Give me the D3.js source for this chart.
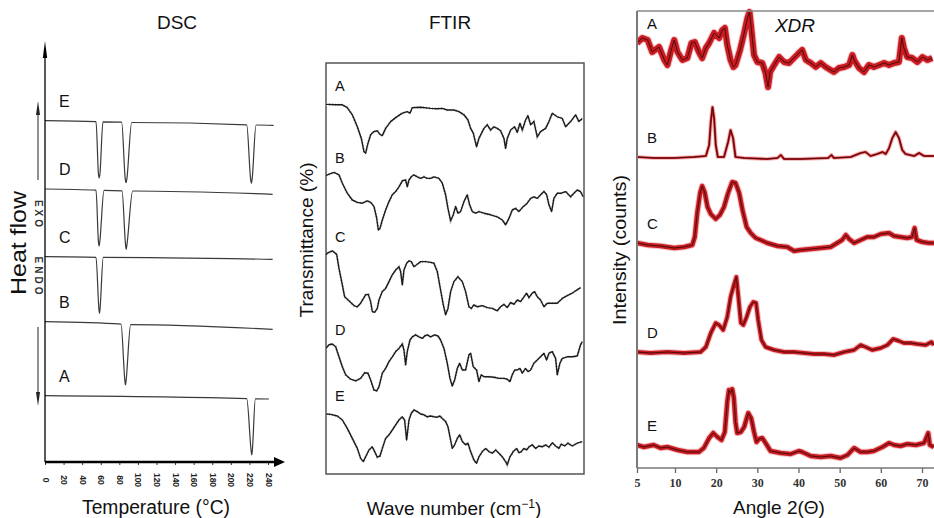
<!DOCTYPE html>
<html lang="en">
<head>
    <meta charset="UTF-8">
    <title>DSC / FTIR / XRD</title>
    <script src="https://d3js.org/d3.v7.min.js"></script>
    <style>
        body { margin: 0; background: #fff; }
        svg { display: block; font-family: "Liberation Sans", Arial, sans-serif; }
    </style>
</head>
<body>
    <div id="chart-container"></div>
    <script>
        // ---------- DSC: [temperature °C, heat flow (a.u.)] ----------
        const dscTicks = [0, 20, 40, 60, 80, 100, 120, 140, 160, 180, 200, 220, 240];
        const dscE = [[0,341.3],[54.9,340.3],[57.6,287],[58.3,284],[59.0,287],[62.4,340.1],[82.5,339.8],[86.5,282],[87.2,279.3],[87.9,282],[93.3,339.5],[217.1,337.2],[221.4,282],[222.1,278.7],[222.8,282],[227.1,337.0],[246,336.7]];
        const dscD = [[0,273],[54.9,271.8],[57.6,219],[58.2,216],[58.8,219],[63.5,271.6],[82.9,271.2],[86.8,216],[87.4,212.7],[88.0,216],[94.4,271],[245,267.7]];
        const dscC = [[0,205.3],[54.9,204.7],[58.1,152],[58.6,148.7],[59.1,152],[62.7,204.6],[245,202.7]];
        const dscB = [[0,140.3],[81.8,137.8],[86.1,80],[86.6,77],[87.1,80],[92.2,137.4],[245,132.7]];
        const dscA = [[0,66.3],[217.1,63.3],[222,10],[222.5,7],[223,10],[226.4,63.2],[241,63]];

        // ---------- FTIR: [wave number cm-1, transmittance %] ----------
        const ftirA = [[4000,92.4],[3982,92.4],[3865,92.3],[3772,92.3],[3703,91.6],[3633,89.8],[3563,86.8],[3507,83.9],[3470,80.6],[3447,80.2],[3414,82.7],[3377,84.8],[3331,85.6],[3284,85.8],[3247,84.9],[3214,84.6],[3168,86.4],[3098,88.1],[3028,89.1],[2935,90.2],[2866,90.6],[2828,90.2],[2796,91.6],[2680,91.7],[2540,91.4],[2447,91.3],[2377,91.4],[2308,91.0],[2215,91.0],[2145,90.6],[2075,89.8],[2019,88.5],[1982,86.4],[1945,85.2],[1899,81.8],[1866,83.9],[1796,86.4],[1750,87.3],[1703,86.0],[1657,86.8],[1610,86.4],[1564,85.8],[1517,83.9],[1494,81.4],[1471,83.9],[1424,86.0],[1368,86.8],[1331,85.4],[1294,87.7],[1261,86.0],[1215,88.5],[1182,89.6],[1145,87.3],[1099,88.1],[1052,84.3],[1006,85.6],[936,86.4],[889,88.1],[843,90.2],[773,89.3],[703,88.9],[657,86.8],[587,88.1],[517,89.8],[471,88.1],[424,88.9]];
        const ftirB = [[4000,74.6],[3982,74.8],[3889,75.4],[3819,74.8],[3772,72.7],[3703,70.2],[3633,68.5],[3563,67.9],[3493,67.7],[3424,68.3],[3377,67.9],[3331,66.9],[3293,64.0],[3270,61.0],[3247,61.4],[3214,63.5],[3168,66.0],[3121,68.1],[3075,69.8],[3028,70.6],[2982,71.8],[2935,73.3],[2889,73.5],[2866,71.8],[2842,73.5],[2810,74.3],[2773,74.8],[2726,74.3],[2680,73.9],[2633,74.3],[2587,73.9],[2540,73.9],[2494,74.3],[2424,73.9],[2377,72.7],[2331,69.8],[2298,66.4],[2261,63.3],[2224,64.8],[2191,66.9],[2159,65.2],[2122,65.6],[2075,68.1],[2029,69.8],[1996,67.3],[1959,65.6],[1913,65.2],[1866,65.6],[1796,65.2],[1703,64.8],[1610,64.3],[1540,63.5],[1494,62.3],[1447,63.9],[1401,66.0],[1354,66.4],[1308,65.6],[1261,66.6],[1192,67.7],[1145,68.9],[1099,69.3],[1052,68.9],[1006,69.8],[959,70.6],[922,69.9],[889,67.3],[852,65.6],[820,68.9],[773,70.2],[717,70.2],[657,70.6],[587,69.3],[541,70.2],[494,71.0],[448,70.6],[411,69.3]];
        const ftirC = [[4000,54.8],[3982,55.2],[3912,55.8],[3851,54.9],[3819,51.4],[3772,47.3],[3740,44.3],[3680,43.3],[3610,42.1],[3563,41.8],[3517,42.7],[3447,44.8],[3410,44.9],[3377,43.1],[3354,40.6],[3321,40.4],[3284,41.4],[3261,43.5],[3214,45.6],[3168,46.4],[3121,48.1],[3075,49.8],[3028,51.0],[2982,51.8],[2959,50.6],[2935,47.3],[2912,51.0],[2875,52.7],[2842,53.3],[2810,53.1],[2773,51.8],[2735,52.3],[2680,53.1],[2610,53.1],[2540,52.9],[2494,52.7],[2447,50.6],[2401,46.0],[2363,42.3],[2331,39.8],[2298,41.4],[2261,45.6],[2215,48.1],[2159,49.3],[2098,48.1],[2052,45.6],[2005,41.8],[1973,41.4],[1936,42.3],[1889,41.8],[1819,42.1],[1750,41.6],[1680,41.4],[1610,40.8],[1564,41.8],[1517,42.4],[1471,41.6],[1424,42.9],[1378,42.4],[1331,43.5],[1285,43.1],[1238,44.3],[1201,45.2],[1168,44.1],[1122,45.2],[1089,45.6],[1052,44.3],[1006,43.5],[959,41.8],[913,42.7],[843,42.7],[773,42.7],[703,43.9],[634,44.6],[564,45.2],[517,45.8],[448,46.6]];
        const ftirD = [[4000,31.4],[3958,32.3],[3912,32.5],[3865,31.8],[3819,29.3],[3772,26.8],[3726,24.8],[3656,23.7],[3586,23.3],[3517,23.9],[3461,25.3],[3414,25.2],[3377,23.5],[3331,21.0],[3293,20.8],[3261,21.8],[3214,25.2],[3168,26.4],[3121,28.1],[3075,29.3],[3028,30.6],[2982,31.4],[2935,32.5],[2912,31.0],[2889,27.3],[2866,30.6],[2828,33.5],[2796,34.3],[2749,34.8],[2703,34.3],[2656,33.9],[2624,34.5],[2587,34.8],[2540,34.3],[2484,34.8],[2438,34.5],[2401,33.5],[2354,31.4],[2308,27.7],[2270,23.9],[2238,22.0],[2205,23.5],[2168,26.4],[2135,27.7],[2098,26.0],[2052,26.0],[2005,29.8],[1982,30.2],[1945,26.8],[1899,26.0],[1866,23.1],[1833,24.8],[1796,24.3],[1726,24.3],[1657,24.2],[1587,23.9],[1517,23.9],[1471,23.7],[1433,23.1],[1401,24.8],[1368,26.0],[1331,26.0],[1294,26.4],[1261,25.2],[1215,26.4],[1182,25.6],[1145,26.0],[1099,27.7],[1052,28.5],[1006,29.3],[959,30.2],[922,28.5],[889,30.2],[843,30.6],[796,28.9],[773,24.8],[736,27.7],[703,28.9],[634,29.3],[564,29.3],[494,29.5],[448,32.3],[424,33.1]];
        const ftirE = [[4000,15.0],[3935,14.9],[3842,14.5],[3772,13.5],[3703,11.4],[3633,8.9],[3563,6.4],[3517,3.9],[3479,3.1],[3447,4.3],[3400,6.0],[3354,6.8],[3321,5.6],[3284,4.2],[3247,4.5],[3214,6.4],[3168,8.9],[3121,9.8],[3075,11.0],[3028,12.3],[2982,13.5],[2935,14.3],[2903,13.5],[2875,8.5],[2842,13.5],[2810,15.2],[2773,16.0],[2726,15.6],[2680,15.0],[2633,14.8],[2587,14.3],[2540,14.5],[2494,14.3],[2447,14.2],[2410,14.5],[2377,13.9],[2331,13.1],[2298,11.8],[2270,9.3],[2238,6.4],[2205,7.3],[2168,8.9],[2135,9.8],[2098,8.1],[2052,7.3],[2019,7.7],[1982,5.6],[1936,3.5],[1899,2.7],[1866,4.3],[1819,5.6],[1773,6.4],[1726,5.6],[1680,5.2],[1633,6.0],[1587,5.2],[1540,4.3],[1494,3.1],[1471,2.3],[1433,4.3],[1387,5.6],[1340,6.4],[1308,5.3],[1275,5.6],[1238,6.4],[1201,6.0],[1168,6.8],[1122,7.3],[1075,6.4],[1029,7.0],[982,6.8],[936,7.3],[889,6.7],[843,7.8],[796,7.0],[750,6.4],[717,7.5],[671,7.0],[625,7.7],[564,7.0],[494,7.7],[424,8.1]];

        // ---------- XRD: [angle 2θ, intensity counts] ----------
        const xrdTicks = [5, 10, 20, 30, 40, 50, 60, 70];
        const xrdA = [[5.0,425],[5.7,430],[6.4,428],[7.0,416],[7.9,421],[8.6,408],[9.0,403],[9.5,418],[9.9,428],[10.6,416],[11.8,408],[13.0,410],[14.0,425],[14.8,426],[15.8,416],[16.6,410],[17.5,420],[18.3,425],[19.5,435],[20.7,430],[21.5,438],[22.1,440],[22.7,423],[23.5,408],[24.2,401],[24.7,403],[25.8,418],[26.8,435],[27.6,450],[28.1,456],[28.5,441],[29.2,413],[30.0,406],[31.2,405],[32.0,395],[32.6,381],[33.1,396],[34.1,403],[35.3,411],[36.5,406],[37.7,405],[38.9,410],[40.1,415],[40.9,418],[41.8,408],[43.0,405],[44.2,401],[45.4,405],[46.6,401],[47.8,398],[48.6,396],[49.8,400],[51.1,401],[52.3,403],[53.1,413],[53.5,408],[54.7,400],[55.9,396],[57.1,403],[58.3,401],[59.6,403],[60.8,405],[62.0,403],[63.2,405],[64.4,406],[65.1,430],[65.6,420],[66.4,411],[67.6,410],[68.9,406],[70.1,411],[71.3,408],[72.5,410]];
        const xrdB = [[5.0,311],[7.2,310],[9.9,310],[14.6,311],[17.5,312],[18.3,323],[18.7,346],[19.1,361],[19.5,350],[19.9,323],[20.4,311],[21.9,311],[22.9,326],[23.5,338],[24.1,330],[24.7,311],[26.8,310],[32.4,309],[34.9,310],[35.7,313],[36.5,309],[40.5,309],[47.2,310],[48.0,313],[48.6,310],[52.7,311],[55.1,315],[56.3,316],[57.5,312],[59.1,314],[60.4,316],[61.2,314],[62.0,320],[62.8,330],[63.6,336],[64.4,330],[65.2,318],[66.0,314],[68.1,312],[69.3,315],[70.5,312],[72.9,312]];
        const xrdC = [[5.0,225],[6.4,223],[8.1,222],[9.9,220],[12.2,221],[14.2,223],[14.8,231],[15.4,255],[16.1,275],[16.6,282],[17.2,276],[17.9,261],[18.7,254],[19.9,249],[20.9,253],[21.9,261],[22.9,275],[23.9,286],[24.7,285],[25.6,275],[26.4,258],[27.4,241],[28.4,235],[29.6,230],[30.8,228],[32.4,225],[34.9,222],[37.3,221],[38.9,217],[40.5,218],[43.0,219],[45.4,220],[47.8,221],[49.4,225],[50.6,228],[51.5,233],[52.3,229],[53.5,225],[55.1,228],[56.7,231],[58.3,231],[60.0,234],[62.0,235],[63.2,232],[64.8,231],[66.4,230],[67.6,231],[68.2,240],[68.7,228],[70.1,226],[71.7,225],[72.9,225]];
        const xrdD = [[5.0,116],[6.8,115],[9.0,116],[12.2,115],[16.2,116],[17.5,121],[18.7,135],[19.9,145],[20.7,143],[21.7,138],[22.7,151],[23.5,171],[24.3,183],[24.9,191],[25.3,175],[26.0,145],[26.6,143],[27.4,151],[28.2,161],[29.0,166],[29.7,165],[30.2,148],[31.0,128],[32.0,121],[34.1,118],[36.5,116],[38.9,116],[41.3,115],[43.8,114],[46.2,114],[48.6,113],[51.1,116],[53.5,118],[55.1,123],[56.3,121],[57.9,118],[60.0,120],[61.6,123],[63.0,129],[64.4,127],[65.6,125],[67.3,125],[68.9,124],[70.9,123],[72.3,126],[72.9,123]];
        const xrdE = [[5.0,23],[5.9,21],[7.2,23],[8.1,20],[9.0,21],[10.6,18],[13.0,16],[15.8,16],[17.0,20],[18.3,30],[19.3,35],[20.3,31],[21.3,28],[22.1,36],[22.7,66],[23.1,78],[23.5,75],[23.9,79],[24.3,70],[24.7,46],[25.1,35],[26.0,36],[26.8,41],[27.8,55],[28.5,50],[29.2,36],[29.8,26],[30.4,29],[31.2,30],[32.0,25],[33.2,17],[35.7,15],[38.1,14],[40.1,17],[40.9,16],[43.0,12],[45.4,11],[47.8,12],[50.2,10],[51.9,13],[53.5,20],[55.1,16],[56.7,16],[58.3,17],[60.4,21],[62.0,25],[63.2,23],[64.8,22],[66.4,24],[68.5,23],[70.5,25],[71.5,35],[71.9,23],[72.9,21]];

        const WIDTH = 934, HEIGHT = 518;
        const svg = d3.select("#chart-container").append("svg")
            .attr("width", WIDTH)
            .attr("height", HEIGHT);
        svg.append("rect").attr("width", WIDTH).attr("height", HEIGHT).attr("fill", "#fff");

        function arrowHead(g, tipX, tipY, dir, len, half, color) {
            // dir: "up" | "down" | "right"
            let p;
            if (dir === "up") p = [[tipX, tipY], [tipX - half, tipY + len], [tipX + half, tipY + len]];
            else if (dir === "down") p = [[tipX, tipY], [tipX - half, tipY - len], [tipX + half, tipY - len]];
            else p = [[tipX, tipY], [tipX - len, tipY - half], [tipX - len, tipY + half]];
            g.append("path").attr("d", "M" + p.join("L") + "Z").attr("fill", color);
        }

        // ================= DSC =================
        const dscX = d3.scaleLinear().domain([0, 240]).range([45, 268]);
        const dscY = d3.scaleLinear().domain([0, 420]).range([462, 42]);
        const dscLine = d3.line().x(d => dscX(d[0])).y(d => dscY(d[1])).curve(d3.curveMonotoneX);
        const dsc = svg.append("g");

        const dscSeries = [["A", dscA], ["B", dscB], ["C", dscC], ["D", dscD], ["E", dscE]];
        dsc.selectAll(".dscLine").data(dscSeries).enter().append("path")
            .attr("class", "dscLine")
            .attr("fill", "none")
            .attr("stroke", "#3a3a3a")
            .attr("stroke-width", 1.2)
            .attr("d", d => dscLine(d[1]));
        dsc.selectAll(".dscLab").data(dscSeries).enter().append("text")
            .attr("class", "dscLab")
            .attr("x", 59)
            .attr("y", d => dscY(d[1][0][1]) - 14)
            .attr("font-size", 16)
            .attr("fill", "#111")
            .text(d => d[0]);

        // axes
        const dscAxisG = dsc.append("g")
            .attr("transform", `translate(0, ${dscY(0)})`)
            .call(d3.axisBottom(dscX).tickValues(dscTicks).tickSize(3).tickSizeOuter(0));
        dscAxisG.select(".domain").remove();
        dscAxisG.selectAll(".tick line").attr("stroke", "#333");
        dscAxisG.selectAll("text")
            .attr("transform", "rotate(90)")
            .attr("x", 18).attr("y", 0).attr("dy", "0.35em")
            .attr("text-anchor", "middle")
            .attr("font-family", "Liberation Sans, Arial, sans-serif")
            .attr("font-size", 8.5)
            .attr("font-weight", "bold")
            .attr("fill", "#222");
        dsc.append("line")
            .attr("x1", dscX(0)).attr("x2", dscX.range()[1] + 8)
            .attr("y1", dscY(0)).attr("y2", dscY(0))
            .attr("stroke", "#000").attr("stroke-width", 2.6);
        arrowHead(dsc, dscX.range()[1] + 17, dscY(0), "right", 11, 5, "#000");
        dsc.append("line")
            .attr("x1", dscX(0)).attr("x2", dscX(0))
            .attr("y1", dscY(0)).attr("y2", dscY.range()[1] + 12)
            .attr("stroke", "#000").attr("stroke-width", 1.3);
        arrowHead(dsc, dscX(0), dscY.range()[1] - 1, "up", 17, 2.2, "#000");

        // exo / endo arrows
        dsc.append("line").attr("x1", 38).attr("x2", 38).attr("y1", 180).attr("y2", 112)
            .attr("stroke", "#222").attr("stroke-width", 1);
        arrowHead(dsc, 38, 101, "up", 14, 2, "#222");
        dsc.append("line").attr("x1", 38).attr("x2", 38).attr("y1", 327).attr("y2", 394)
            .attr("stroke", "#222").attr("stroke-width", 1);
        arrowHead(dsc, 38, 406, "down", 14, 2, "#222");
        dsc.append("text").attr("transform", "translate(38,215) rotate(90)")
            .attr("text-anchor", "middle").attr("dy", "0.35em")
            .attr("font-size", 10).attr("font-weight", "bold").attr("letter-spacing", 3)
            .attr("fill", "#333").text("EXO");
        dsc.append("text").attr("transform", "translate(38,277) rotate(90)")
            .attr("text-anchor", "middle").attr("dy", "0.35em")
            .attr("font-size", 10).attr("font-weight", "bold").attr("letter-spacing", 3)
            .attr("fill", "#333").text("ENDO");

        dsc.append("text").attr("x", 177).attr("y", 29).attr("text-anchor", "middle")
            .attr("font-size", 19).attr("fill", "#111").text("DSC");
        dsc.append("text").attr("transform", "translate(26,243) rotate(-90)")
            .attr("text-anchor", "middle").attr("font-size", 22).attr("fill", "#111")
            .attr("textLength", 104).attr("lengthAdjust", "spacingAndGlyphs").text("Heat flow");
        dsc.append("text").attr("x", 156).attr("y", 514).attr("text-anchor", "middle")
            .attr("font-size", 20).attr("fill", "#111")
            .attr("textLength", 148).attr("lengthAdjust", "spacingAndGlyphs").text("Temperature (°C)");

        // ================= FTIR =================
        const ftirX = d3.scaleLinear().domain([4000, 400]).range([326, 584]);
        const ftirY = d3.scaleLinear().domain([0, 102.75]).range([474, 63]);
        const ftirLine = d3.line().x(d => ftirX(d[0])).y(d => ftirY(d[1]));
        const ftir = svg.append("g");
        ftir.append("rect")
            .attr("x", ftirX.range()[0]).attr("y", ftirY.range()[1])
            .attr("width", ftirX.range()[1] - ftirX.range()[0])
            .attr("height", ftirY.range()[0] - ftirY.range()[1])
            .attr("fill", "none").attr("stroke", "#555").attr("stroke-width", 1.5);

        const ftirSeries = [["A", ftirA], ["B", ftirB], ["C", ftirC], ["D", ftirD], ["E", ftirE]];
        ftir.selectAll(".ftirHalo").data(ftirSeries).enter().append("path")
            .attr("class", "ftirHalo")
            .attr("fill", "none").attr("stroke", "#bbb").attr("stroke-width", 2.6)
            .attr("stroke-dasharray", "1 2")
            .attr("d", d => ftirLine(d[1]));
        ftir.selectAll(".ftirLine").data(ftirSeries).enter().append("path")
            .attr("class", "ftirLine")
            .attr("fill", "none").attr("stroke", "#1a1a1a").attr("stroke-width", 1.4)
            .attr("stroke-linejoin", "round")
            .attr("d", d => ftirLine(d[1]));
        ftir.selectAll(".ftirLab").data(ftirSeries).enter().append("text")
            .attr("class", "ftirLab")
            .attr("x", 335)
            .attr("y", d => ftirY(d[1][0][1]) - 13)
            .attr("font-size", 14.5).attr("fill", "#111")
            .text(d => d[0]);

        ftir.append("text").attr("x", 450).attr("y", 29).attr("text-anchor", "middle")
            .attr("font-size", 19).attr("fill", "#111").text("FTIR");
        ftir.append("text").attr("transform", "translate(313,240) rotate(-90)")
            .attr("text-anchor", "middle").attr("font-size", 19).attr("fill", "#111")
            .attr("textLength", 155).attr("lengthAdjust", "spacingAndGlyphs").text("Transmittance (%)");
        const wn = ftir.append("text").attr("x", 454).attr("y", 515).attr("text-anchor", "middle")
            .attr("font-size", 19).attr("fill", "#111");
        wn.append("tspan").text("Wave number (cm");
        wn.append("tspan").attr("dy", -7).attr("font-size", 12).text("−1");
        wn.append("tspan").attr("dy", 7).text(")");

        // ================= XRD =================
        const xrdX = d3.scaleLinear().domain([5, 10, 70]).range([637, 675, 922]);
        const xrdY = d3.scaleLinear().domain([0, 457]).range([468, 11]);
        const xrdLine = d3.line().x(d => xrdX(d[0])).y(d => xrdY(d[1]));
        const xrd = svg.append("g");
        xrd.append("clipPath").attr("id", "xrdClip").append("rect")
            .attr("x", xrdX.range()[0]).attr("y", 0)
            .attr("width", WIDTH - xrdX.range()[0]).attr("height", xrdY.range()[0]);

        const xrdSeries = [["A", xrdA, 6], ["B", xrdB, 2.2], ["C", xrdC, 4.5], ["D", xrdD, 4], ["E", xrdE, 4.5]];
        const xrdPlot = xrd.append("g").attr("clip-path", "url(#xrdClip)");
        xrdPlot.selectAll(".xrdHalo").data(xrdSeries).enter().append("path")
            .attr("class", "xrdHalo")
            .attr("fill", "none").attr("stroke", "#e26a6e").attr("stroke-opacity", 0.4)
            .attr("stroke-width", d => d[2] + 2)
            .attr("stroke-linejoin", "round")
            .attr("d", d => xrdLine(d[1]));
        xrdPlot.selectAll(".xrdBand").data(xrdSeries).enter().append("path")
            .attr("class", "xrdBand")
            .attr("fill", "none").attr("stroke", "#c81a20").attr("stroke-width", d => d[2])
            .attr("stroke-linejoin", "round")
            .attr("d", d => xrdLine(d[1]));
        xrdPlot.selectAll(".xrdLine").data(xrdSeries).enter().append("path")
            .attr("class", "xrdLine")
            .attr("fill", "none").attr("stroke", "#3d0b0b").attr("stroke-width", 0.9)
            .attr("d", d => xrdLine(d[1]));
        xrd.selectAll(".xrdLab").data(xrdSeries).enter().append("text")
            .attr("class", "xrdLab")
            .attr("x", 647)
            .attr("y", d => xrdY(d[1][0][1]) - 14)
            .attr("font-size", 15).attr("fill", "#111")
            .text(d => d[0]);

        // frame + axis
        xrd.append("line").attr("x1", xrdX.range()[0]).attr("x2", xrdX.range()[0])
            .attr("y1", xrdY.range()[1]).attr("y2", xrdY.range()[0])
            .attr("stroke", "#7a7a7a").attr("stroke-width", 2);
        xrd.append("line").attr("x1", xrdX.range()[0]).attr("x2", WIDTH)
            .attr("y1", xrdY.range()[1]).attr("y2", xrdY.range()[1])
            .attr("stroke", "#888").attr("stroke-width", 1.5);
        const xrdAxisG = xrd.append("g")
            .attr("transform", `translate(0, ${xrdY(0)})`)
            .call(d3.axisBottom(xrdX).tickValues(xrdTicks).tickSize(5).tickPadding(5).tickSizeOuter(0).tickFormat(d3.format("d")));
        xrdAxisG.select(".domain").remove();
        xrdAxisG.selectAll(".tick line").attr("stroke", "#666").attr("stroke-width", 1.3);
        xrdAxisG.selectAll("text")
            .attr("font-family", "Liberation Serif, Times New Roman, serif")
            .attr("font-size", 12).attr("font-weight", "bold").attr("fill", "#333");
        xrd.append("line").attr("x1", xrdX.range()[0]).attr("x2", WIDTH)
            .attr("y1", xrdY(0)).attr("y2", xrdY(0))
            .attr("stroke", "#777").attr("stroke-width", 1.5);

        xrd.append("text").attr("x", 795).attr("y", 32).attr("text-anchor", "middle")
            .attr("font-size", 19).attr("font-style", "italic").attr("fill", "#111").text("XDR");
        xrd.append("text").attr("transform", "translate(626,250) rotate(-90)")
            .attr("text-anchor", "middle").attr("font-size", 19).attr("fill", "#111")
            .attr("textLength", 150).attr("lengthAdjust", "spacingAndGlyphs").text("Intensity (counts)");
        xrd.append("text").attr("x", 779).attr("y", 514).attr("text-anchor", "middle")
            .attr("font-size", 19).attr("font-style", "normal").attr("fill", "#111").text("Angle 2(Θ)");
    </script>
</body>
</html>
